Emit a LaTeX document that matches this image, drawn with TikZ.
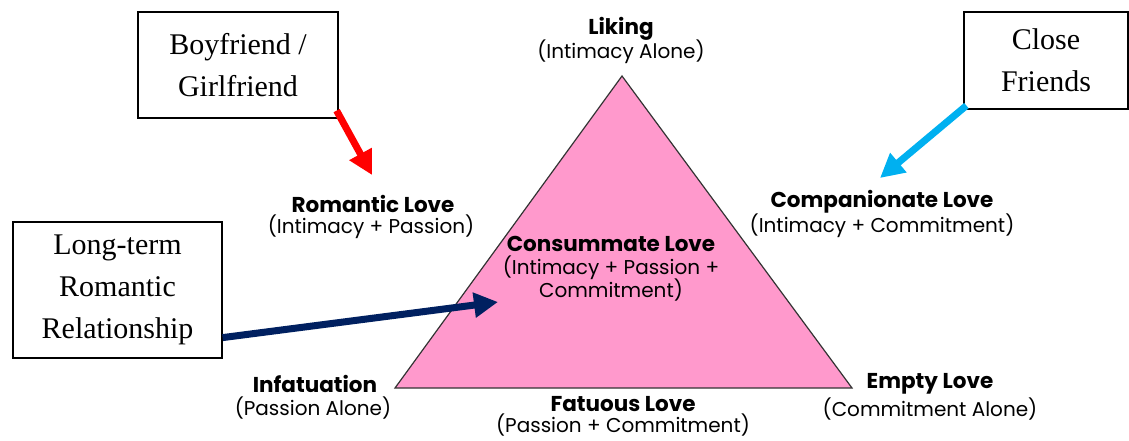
\documentclass[tikz,border=0pt]{standalone}
\usepackage{fontspec}
\setmainfont{Liberation Serif}
\newfontfamily\geo{Poppins}
\usetikzlibrary{arrows.meta}
\definecolor{tripink}{HTML}{FF99CC}
\definecolor{cfblue}{HTML}{00B0F0}
\definecolor{navyarrow}{HTML}{002060}
\tikzset{
  callout/.style={draw=black, line width=1.2pt, fill=white, inner sep=0pt, font=\fontsize{30}{42}\selectfont, align=center},
  ttl/.style={font=\geo\bfseries\fontsize{21.5}{24}\selectfont, inner sep=0pt},
  sub/.style={font=\geo\fontsize{20}{24}\selectfont, inner sep=0pt},
  bigarrow/.style={line width=7pt, -{Triangle[length=24pt,width=24pt]}}
}
\begin{document}
\begin{tikzpicture}[x=1pt,y=-1pt]
\useasboundingbox (0,0) rectangle (1129,440);
% triangle
\coordinate (apex) at (622,76);
\coordinate (bl) at (395,388);
\coordinate (br) at (852,388);
\fill[tripink] (apex) -- (br) -- (bl) -- cycle;
\draw[line width=1.2pt, black!80] (apex) -- (br) -- (bl) -- cycle;
% labels
\node[ttl] (liking) at (621,29) {Liking};
\node[sub] (likingS) at (621,52) {(Intimacy Alone)};
\node[ttl] (rom) at (373,204) {Romantic Love};
\node[sub] (romS) at (371,227) {(Intimacy + Passion)};
\node[ttl] (comp) at (882,202) {Companionate Love};
\node[sub] (compS) at (882,226) {(Intimacy + Commitment)};
\node[ttl] (cons) at (611,244) {Consummate Love};
\node[sub] (consS1) at (611,268) {(Intimacy + Passion +};
\node[sub] (consS2) at (611,290) {Commitment)};
\node[ttl] (inf) at (315,384) {Infatuation};
\node[sub] (infS) at (313,408) {(Passion Alone)};
\node[ttl] (fat) at (623,404) {Fatuous Love};
\node[sub] (fatS) at (623,425) {(Passion + Commitment)};
\node[ttl] (emp) at (930,384) {Empty Love};
\node[sub] (empS) at (930,409) {(Commitment Alone)};
% callout boxes
\node[callout, minimum width=200pt, minimum height=106pt] (bf) at (238,65) {Boyfriend /\\Girlfriend};
\node[callout, minimum width=164pt, minimum height=97pt] (cf) at (1046,60.5) {Close\\Friends};
\node[callout, minimum width=209pt, minimum height=136pt] (lt) at (117.5,290) {Long-term\\Romantic\\Relationship};
% arrow tips
\coordinate (redtip) at (372,175);
\coordinate (bluetip) at (880,178);
\coordinate (navytip) at (498,302);
\draw[bigarrow, red] ([xshift=-2pt,yshift=8pt]bf.south east) -- (redtip);
\draw[bigarrow, cfblue] ([xshift=3pt,yshift=4pt]cf.south west) -- (bluetip);
\draw[bigarrow, navyarrow] ([yshift=21pt]lt.south east) -- (navytip);
\end{tikzpicture}
\end{document}
